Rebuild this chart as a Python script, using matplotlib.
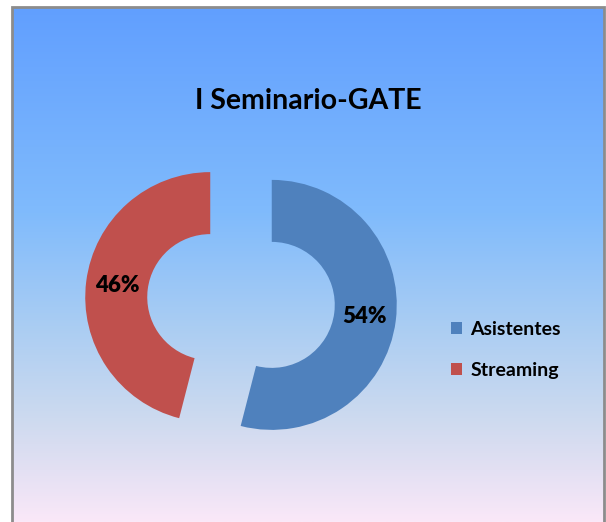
import numpy as np
import matplotlib
matplotlib.use("Agg")
import matplotlib.pyplot as plt
from matplotlib.colors import LinearSegmentedColormap
from matplotlib.patches import Rectangle
from matplotlib.font_manager import FontProperties

# Data
categories = ["Asistentes", "Streaming"]
values = [54, 46]
colors = ["#4F81BD", "#C0504D"]
title = "I Seminario-GATE"

W, H = 606, 522
fig = plt.figure(figsize=(W / 100, H / 100), dpi=100)
fig.patch.set_facecolor("white")
ax = fig.add_axes([0, 0, 1, 1])

# Gradient background inside frame
left, right, top = 12, 604, H - 7
stops = [
    (0.00, (97 / 255, 159 / 255, 255 / 255)),
    (0.40, (128 / 255, 187 / 255, 252 / 255)),
    (0.62, (170 / 255, 205 / 255, 243 / 255)),
    (0.80, (205 / 255, 218 / 255, 239 / 255)),
    (0.90, (227 / 255, 224 / 255, 243 / 255)),
    (1.00, (250 / 255, 232 / 255, 248 / 255)),
]
cmap = LinearSegmentedColormap.from_list("bg", stops)
grad = np.linspace(0, 1, 256).reshape(-1, 1)
ax.imshow(grad, cmap=cmap, aspect="auto", extent=[left, right, 0, top],
          origin="upper", zorder=0)
ax.add_patch(Rectangle((left, -5), right - left, top + 5, fill=False,
                       edgecolor="#8c8c8c", linewidth=2, zorder=1))

font = "Lato"
pct_fp = FontProperties(family=font, weight="heavy", size=16)

wedges, texts, autotexts = ax.pie(
    values,
    colors=colors,
    center=(241, 221),
    radius=125,
    startangle=90,
    counterclock=False,
    explode=[31, 31],
    wedgeprops=dict(width=62, linewidth=0),
    autopct="%1.0f%%",
    pctdistance=0.75,
    frame=True,
)
for w in wedges:
    w.set_zorder(2)
for t in autotexts:
    t.set_zorder(3)
    t.set_fontproperties(pct_fp)
    t.set_color("black")
ax.set_xlim(0, W)
ax.set_ylim(0, H)
ax.set_aspect("auto")
ax.axis("off")

ax.text(308, H - 101, title, ha="center", va="center", fontsize=20.5,
        fontweight="bold", family=font, color="black", zorder=3)

leg = ax.legend(wedges, categories, loc="upper left",
                bbox_to_anchor=(443 / W, (H - 313) / H), frameon=False,
                handlelength=0.6, handleheight=0.6, handletextpad=0.4,
                labelspacing=1.25, borderaxespad=0,
                prop=dict(family=font, weight="bold", size=14))
leg.set_zorder(3)

fig.savefig("out.png", dpi=100)
